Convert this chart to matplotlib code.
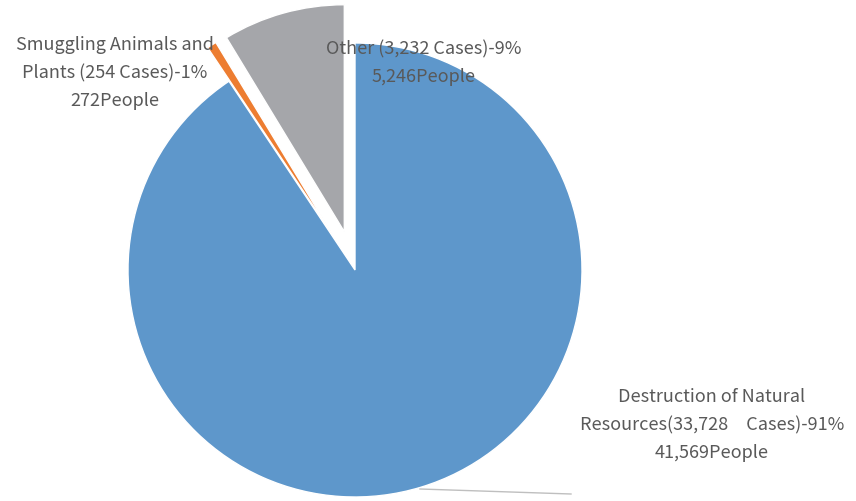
import matplotlib
matplotlib.use("Agg")
import matplotlib.pyplot as plt

plt.rcParams['font.family'] = ['Noto Sans CJK JP', 'DejaVu Sans']

# data
categories = ["Destruction of Natural Resources", "Smuggling Animals and Plants", "Other"]
cases = [33728, 254, 3232]
people = [41569, 272, 5246]
labels = [
    "Destruction of Natural\nResources(33,728　Cases)-91%\n41,569People",
    "Smuggling Animals and\nPlants (254 Cases)-1%\n272People",
    "Other (3,232 Cases)-9%\n5,246People",
]
colors = ["#5E97CB", "#ED7D31", "#A5A6AA"]
explode = [0, 0.175, 0.175]

W, H = 856, 501
R = 227.0          # pie radius in pixels
cx, cy = 355, 270  # pie centre (pixels from top-left)

fig = plt.figure(figsize=(W / 100, H / 100), dpi=100)
ax = fig.add_axes([0, 0, 1, 1])
ax.pie(cases, colors=colors, explode=explode, startangle=90,
       counterclock=False, radius=1.0, center=(0, 0),
       wedgeprops=dict(linewidth=1, edgecolor='white'))
ax.set_xlim(-cx / R, (W - cx) / R)
ax.set_ylim(-(H - cy) / R, cy / R)
ax.axis('off')


def px(x, y):
    return ((x - cx) / R, (cy - y) / R)


txt = dict(ha='center', va='center', fontsize=13, color='#595959',
           linespacing=1.7)
ax.text(*px(712, 425), labels[0], **txt)
ax.text(*px(115, 73), labels[1], **txt)
ax.text(*px(424, 63), labels[2], **txt)

# leader line for the big slice
(x0, y0), (x1, y1) = px(420, 489), px(571, 494)
ax.plot([x0, x1], [y0, y1], color='#BFBFBF', lw=1)

fig.savefig("out.png", dpi=100)
